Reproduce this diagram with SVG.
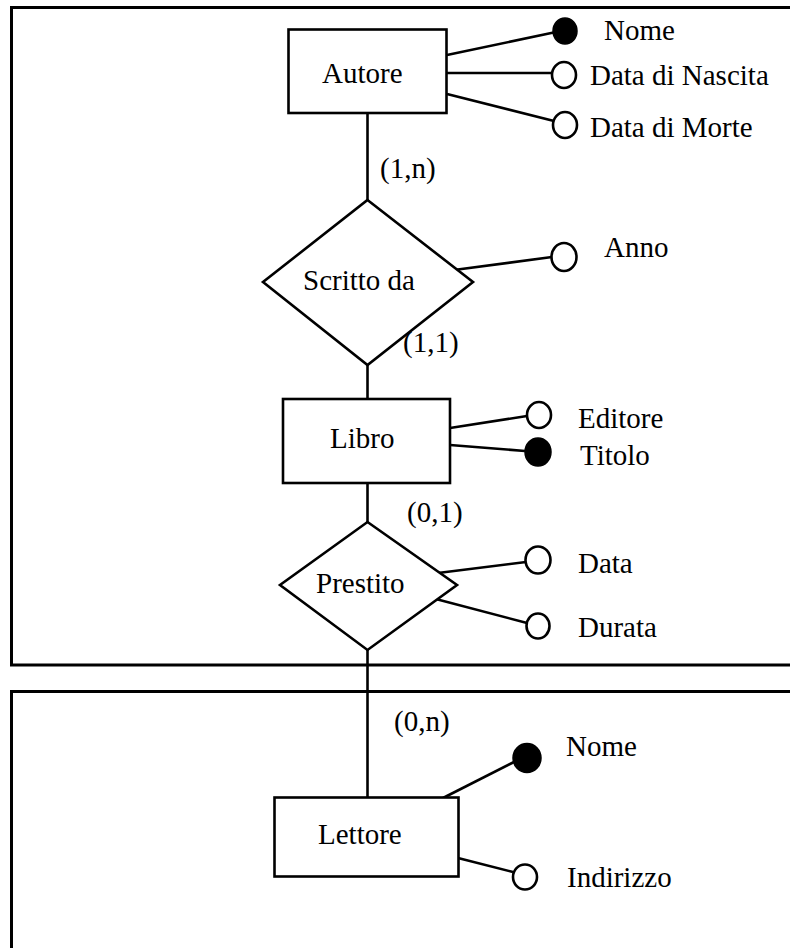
<svg xmlns="http://www.w3.org/2000/svg" width="790" height="948" viewBox="0 0 790 948">
  <style>
    .frame { fill: none; stroke: #000; stroke-width: 3; }
    .shape { fill: #fff; stroke: #000; stroke-width: 2.6; }
    .edge { fill: none; stroke: #000; stroke-width: 2.6; }
    .attr { fill: #fff; stroke: #000; stroke-width: 2.6; }
    .key { fill: #000; stroke: #000; stroke-width: 1.5; }
    text { font-family: "Liberation Serif", "Times New Roman", serif; font-size: 29px; fill: #000; }
  </style>
  <rect width="790" height="948" fill="#fff"/>

  <!-- schema frames (open on the right / bottom) -->
  <g id="frames">
    <path class="frame" d="M800,7.5 H11.5 V665 H800"/>
    <path class="frame" d="M800,691.5 H11.5 V960"/>
  </g>

  <!-- connectors -->
  <g id="connectors">
    <line class="edge" x1="367.5" y1="113" x2="367.5" y2="200"/>
    <line class="edge" x1="367.5" y1="365" x2="367.5" y2="399"/>
    <line class="edge" x1="367.5" y1="483" x2="367.5" y2="522"/>
    <line class="edge" x1="367.5" y1="650" x2="367.5" y2="797"/>
    <!-- attribute links -->
    <line class="edge" x1="447" y1="55" x2="556" y2="32"/>
    <line class="edge" x1="447" y1="73" x2="553" y2="73"/>
    <line class="edge" x1="447" y1="94" x2="554" y2="121"/>
    <line class="edge" x1="454" y1="270" x2="552" y2="257"/>
    <line class="edge" x1="450" y1="428" x2="527" y2="416"/>
    <line class="edge" x1="450" y1="445" x2="525" y2="451"/>
    <line class="edge" x1="438" y1="573" x2="526" y2="562"/>
    <line class="edge" x1="432" y1="598" x2="527" y2="623"/>
    <line class="edge" x1="443" y1="798" x2="514" y2="762"/>
    <line class="edge" x1="458" y1="858" x2="513" y2="872"/>
  </g>

  <!-- cardinalities -->
  <g id="cardinalities">
    <text x="380" y="178">(1,n)</text>
    <text x="403" y="352">(1,1)</text>
    <text x="407" y="522">(0,1)</text>
    <text x="394" y="731">(0,n)</text>
  </g>

  <!-- entity: Autore -->
  <g id="autore">
    <rect class="shape" x="288.5" y="29.5" width="158" height="83.5"/>
    <text x="322" y="83">Autore</text>
    <ellipse class="key" cx="565" cy="31" rx="12" ry="13"/>
    <text x="604" y="40">Nome</text>
    <ellipse class="attr" cx="564" cy="75" rx="12" ry="13"/>
    <text x="590" y="85">Data di Nascita</text>
    <ellipse class="attr" cx="565" cy="125" rx="12" ry="13"/>
    <text x="590" y="137">Data di Morte</text>
  </g>

  <!-- relationship: Scritto da -->
  <g id="scritto-da">
    <polygon class="shape" points="367.5,200 473,282 367.5,365 263,282"/>
    <text x="303" y="290">Scritto da</text>
    <ellipse class="attr" cx="564" cy="257" rx="12.5" ry="14"/>
    <text x="604" y="257">Anno</text>
  </g>

  <!-- entity: Libro -->
  <g id="libro">
    <rect class="shape" x="283" y="399" width="167" height="84"/>
    <text x="330" y="448">Libro</text>
    <ellipse class="attr" cx="539" cy="415" rx="12" ry="13"/>
    <text x="578" y="428">Editore</text>
    <ellipse class="key" cx="538" cy="452" rx="13" ry="14"/>
    <text x="580" y="465">Titolo</text>
  </g>

  <!-- relationship: Prestito -->
  <g id="prestito">
    <polygon class="shape" points="367.5,522 457,585 367.5,650 280,585"/>
    <text x="316" y="593">Prestito</text>
    <ellipse class="attr" cx="538" cy="560" rx="12.5" ry="13.5"/>
    <text x="578" y="573">Data</text>
    <ellipse class="attr" cx="538" cy="626" rx="11.5" ry="12.5"/>
    <text x="578" y="637">Durata</text>
  </g>

  <!-- entity: Lettore -->
  <g id="lettore">
    <rect class="shape" x="274.5" y="797.5" width="184" height="79"/>
    <text x="318" y="844">Lettore</text>
    <ellipse class="key" cx="527" cy="758" rx="14" ry="14.5"/>
    <text x="566" y="756">Nome</text>
    <ellipse class="attr" cx="525" cy="877" rx="12" ry="12.5"/>
    <text x="567" y="887">Indirizzo</text>
  </g>
</svg>
